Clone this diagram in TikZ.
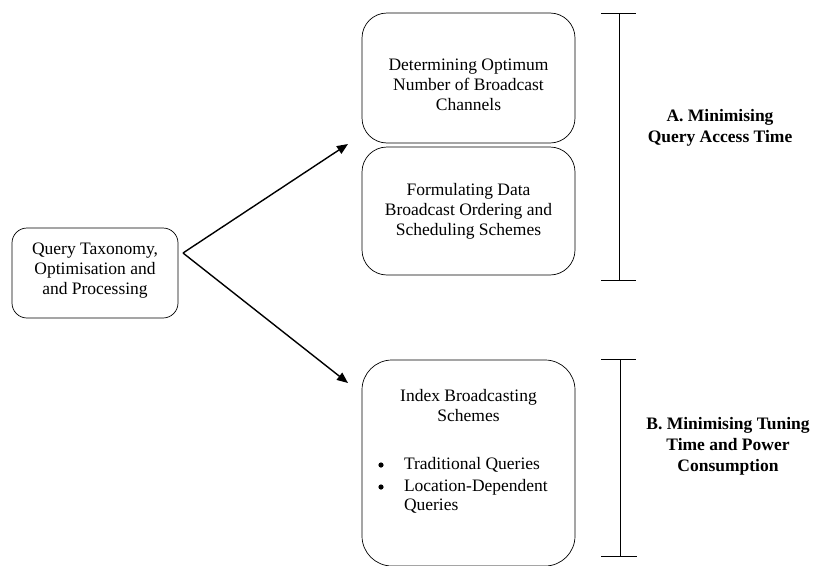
\documentclass[tikz,border=0pt]{standalone}
\usepackage{fontspec}
\setmainfont{Liberation Serif}
\usetikzlibrary{arrows.meta}
\begin{document}
\begin{tikzpicture}[x=1pt,y=-1pt,
  every node/.style={inner sep=0pt,outer sep=0pt},
  txt/.style={align=center,font=\fontsize{17.5}{20}\selectfont},
  itemtxt/.style={align=left,anchor=west,font=\fontsize{17.5}{19}\selectfont},
  boldtxt/.style={align=center,font=\fontsize{17.5}{21}\selectfont\bfseries},
  rbox/.style={draw,line width=0.7pt,rounded corners=#1},
  dot/.style={circle,fill,minimum size=5.2pt},
  arr/.style={-{Triangle[length=11pt,width=9pt]},line width=1.4pt},
  bar/.style={line width=0.8pt}]
\useasboundingbox (0,0) rectangle (814,565);

% source box
\node[rbox=15pt,minimum width=166pt,minimum height=90pt] (src) at (95,273) {};
\node[txt] (srct) at (95,271) {Query Taxonomy,\\Optimisation and\\and Processing};

% access-time boxes
\node[rbox=25pt,minimum width=213pt,minimum height=130pt] (chan) at (468.5,78) {};
\node[txt] (chant) at (468.5,85) {Determining Optimum\\Number of Broadcast\\Channels};
\node[rbox=25pt,minimum width=213pt,minimum height=128pt] (order) at (468.5,211) {};
\node[txt] (ordert) at (468.5,211) {Formulating Data\\Broadcast Ordering and\\Scheduling Schemes};

% tuning-time box
\node[rbox=30pt,minimum width=213pt,minimum height=206pt] (index) at (468.5,463) {};
\node[txt] (indext) at (468.5,406) {Index Broadcasting\\Schemes};
\node[dot] (b1) at (381,465) {};
\node[itemtxt] (i1) at (404,465) {Traditional Queries};
\node[dot] (b2) at (381,487) {};
\node[itemtxt] (i2) at (404,496) {Location-Dependent\\Queries};

% arrows
\coordinate (fork) at (183,253);
\coordinate (tipA) at (348,144);
\coordinate (tipB) at (348,383);
\draw[arr] (fork) -- (tipA);
\draw[arr] (fork) -- (tipB);

% brackets
\coordinate (aT) at (619,13);
\coordinate (aB) at (619,280);
\draw[bar] (aT) -- (aB);
\draw[bar] ([xshift=-18pt]aT) -- ([xshift=17pt]aT);
\draw[bar] ([xshift=-18pt]aB) -- ([xshift=17pt]aB);
\coordinate (bT) at (620,359);
\coordinate (bB) at (620,556);
\draw[bar] (bT) -- (bB);
\draw[bar] ([xshift=-19pt]bT) -- ([xshift=16pt]bT);
\draw[bar] ([xshift=-19pt]bB) -- ([xshift=17pt]bB);

\node[boldtxt] (labA) at (720,128) {A. Minimising\\Query Access Time};
\node[boldtxt] (labB) at (728,446) {B. Minimising Tuning\\Time and Power\\Consumption};
\end{tikzpicture}
\end{document}
